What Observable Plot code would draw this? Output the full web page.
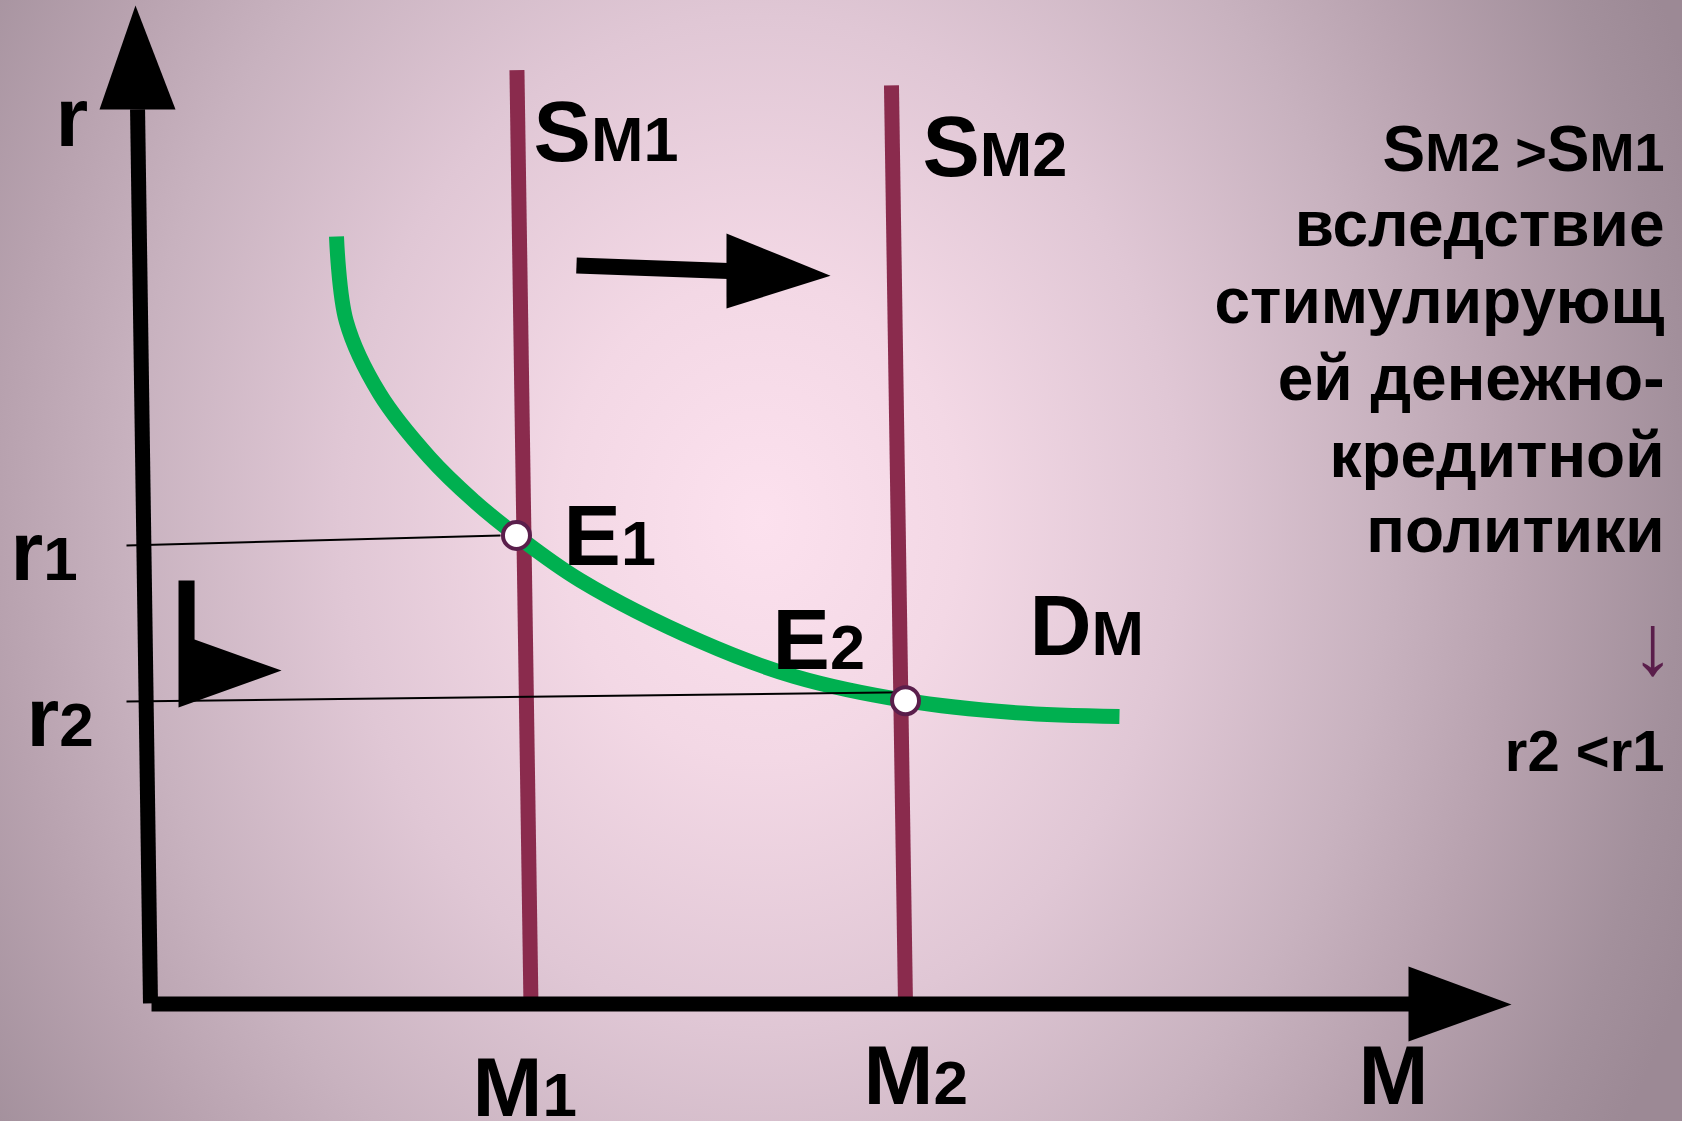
<!DOCTYPE html>
<html><head><meta charset="utf-8">
<script src="https://cdn.jsdelivr.net/npm/d3@7"></script>
<script src="https://cdn.jsdelivr.net/npm/@observablehq/plot@0.6"></script>
<style>
html,body{margin:0;padding:0;overflow:hidden;width:1682px;height:1121px;}
body{background:radial-gradient(ellipse 1000px 1200px at 760px 520px,#FCE1EE 0%,#F3D8E5 20%,#E0C7D5 42%,#C8B2BF 63%,#B8A2AF 76%,#A3909C 92%,#9C8995 100%);}
#chart svg{display:block}
</style></head><body><div id="chart"></div>
<script>
// ---- data (M = money quantity, r = interest rate, arbitrary units) ----
const demandCurve = [
  {M:2.005,r:16.566},{M:2.110,r:14.730},
  {M:2.464,r:13.175},{M:2.997,r:11.793},{M:3.467,r:10.864},{M:3.925,r:10.108},
  {M:4.608,r:9.136},{M:5.888,r:7.819},{M:6.891,r:7.063},{M:8.075,r:6.544},
  {M:9.227,r:6.285},{M:10.357,r:6.199}
];
const supply1 = [{M:3.93,r:20.16},{M:4.08,r:-0.09}];
const supply2 = [{M:7.925,r:19.83},{M:8.075,r:-0.065}];
const equilibria = [{M:3.925,r:10.11},{M:8.075,r:6.54}];
const guideR1 = [{M:-0.235,r:9.89},{M:3.755,r:10.11}];
const guideR2 = [{M:-0.235,r:6.52},{M:8.075,r:6.72}];

const yAxisShaft = [{M:-0.117,r:19.31},{M:0.021,r:0}];
const yAxisHead = [{M:-0.523,r:19.31},{M:0.288,r:19.31},{M:-0.139,r:21.555},{M:-0.523,r:19.31}];
const xAxisShaft = [{M:0.032,r:-0.011},{M:13.461,r:-0.011}];
const xAxisHead = [{M:13.44,r:0.799},{M:14.539,r:-0.022},{M:13.44,r:-0.821},{M:13.44,r:0.799}];
const shiftShaft = [{M:4.565,r:15.94},{M:6.19,r:15.82}];
const shiftHead = [{M:6.165,r:16.63},{M:7.275,r:15.72},{M:6.165,r:15.01},{M:6.165,r:16.63}];
const flagArrow = [{M:0.32,r:9.136},{M:0.491,r:9.136},{M:0.491,r:7.862},{M:1.419,r:7.192},{M:0.32,r:6.393},{M:0.32,r:9.136}];

const tickLabels = [
  {M:-0.992,r:18.53,label:"r"},
  {M:-1.472,r:9.136,label:"r1"},
  {M:-1.301,r:5.572,label:"r2"},
  {M:3.456,r:-2.44,label:"M1"},
  {M:7.627,r:-2.181,label:"M2"},
  {M:12.907,r:-2.181,label:"M"}
];
const curveLabels = [
  {M:4.107,r:18.186,label:"SM1"},
  {M:8.256,r:17.883,label:"SM2"},
  {M:4.427,r:9.460,label:"E1"},
  {M:6.656,r:7.214,label:"E2"},
  {M:9.397,r:7.516,label:"DM"}
];
const noteLines = [
  {M:16.171,r:17.970,label:"SM2 >SM1"},
  {M:16.171,r:16.350,label:"вследствие"},
  {M:16.171,r:14.687,label:"стимулирующ"},
  {M:16.171,r:13.024,label:"ей денежно-"},
  {M:16.171,r:11.361,label:"кредитной"},
  {M:16.171,r:9.741,label:"политики"}
];
const noteArrow = [{M:16.043,r:7.127,label:"↓"}];
const noteResult = [{M:16.171,r:5.011,label:"r2 <r1"}];

// ---- drawing ----
const FONT = "'Liberation Sans', Arial, sans-serif";
const MAROON = "#8A2B4D", GREEN = "#00B050", DOT = "#5A1E4B";
const lineOpts = {x:"M", y:"r", strokeLinecap:"butt", strokeLinejoin:"miter"};

const chart = Plot.plot({
  width:1682, height:1121, margin:0,
  x:{domain:[-1.579,16.363], axis:null},
  y:{domain:[-2.549,21.663], axis:null},
  style:{background:"transparent", overflow:"visible"},
  marks:[
    Plot.line(supply1, {...lineOpts, stroke:MAROON, strokeWidth:15}),
    Plot.line(supply2, {...lineOpts, stroke:MAROON, strokeWidth:15}),
    Plot.line(yAxisShaft, {...lineOpts, stroke:"black", strokeWidth:15}),
    Plot.line(yAxisHead, {...lineOpts, fill:"black", stroke:"none"}),
    Plot.line(xAxisShaft, {...lineOpts, stroke:"black", strokeWidth:15}),
    Plot.line(xAxisHead, {...lineOpts, fill:"black", stroke:"none"}),
    Plot.line(shiftShaft, {...lineOpts, stroke:"black", strokeWidth:16}),
    Plot.line(shiftHead, {...lineOpts, fill:"black", stroke:"none"}),
    Plot.line(flagArrow, {...lineOpts, fill:"black", stroke:"none"}),
    Plot.line(demandCurve, {...lineOpts, stroke:GREEN, strokeWidth:15, curve:"catmull-rom"}),
    Plot.line(guideR1, {...lineOpts, stroke:"black", strokeWidth:2}),
    Plot.line(guideR2, {...lineOpts, stroke:"black", strokeWidth:2}),
    Plot.dot(equilibria, {x:"M", y:"r", r:13.5, fill:"white", stroke:DOT, strokeWidth:4}),
    Plot.text(tickLabels, {x:"M", y:"r", text:"label", textAnchor:"start", lineAnchor:"bottom",
      fontSize:84, fontWeight:"bold", fontFamily:FONT, fill:"black"}),
    Plot.text(curveLabels, {x:"M", y:"r", text:"label", textAnchor:"start", lineAnchor:"bottom",
      fontSize:86, fontWeight:"bold", fontFamily:FONT, fill:"black"}),
    Plot.text(noteLines, {x:"M", y:"r", text:"label", textAnchor:"end", lineAnchor:"bottom",
      fontSize:64, fontWeight:"bold", fontFamily:FONT, fill:"black"}),
    Plot.text(noteArrow, {x:"M", y:"r", text:"label", textAnchor:"middle", lineAnchor:"bottom",
      fontSize:86, fontFamily:FONT, fill:DOT}),
    Plot.text(noteResult, {x:"M", y:"r", text:"label", textAnchor:"end", lineAnchor:"bottom",
      fontSize:58, fontWeight:"bold", fontFamily:FONT, fill:"black"})
  ]
});

// split labels into a large leading letter and a smaller index part
const SVGNS = "http://www.w3.org/2000/svg";
function splitText(t, big, small, isBig) {
  const s = t.textContent;
  t.textContent = "";
  let i = 0;
  while (i < s.length) {
    const b = isBig(s[i], i);
    let j = i;
    while (j < s.length && isBig(s[j], j) === b) j++;
    const ts = document.createElementNS(SVGNS, "tspan");
    ts.setAttribute("font-size", b ? big : small);
    ts.textContent = s.slice(i, j);
    t.appendChild(ts);
    i = j;
  }
}
const tickSet = new Set(tickLabels.map(d => d.label));
const curveSet = new Set(curveLabels.map(d => d.label));
chart.querySelectorAll("text").forEach(t => {
  const s = t.textContent;
  if (tickSet.has(s) && s.length > 1) splitText(t, 84, 62, (c, i) => i === 0);
  else if (curveSet.has(s)) splitText(t, 86, 63, (c, i) => i === 0);
  else if (s === noteLines[0].label) splitText(t, 64, 54, c => c === "S");
});
document.getElementById("chart").appendChild(chart);
</script></body></html>
